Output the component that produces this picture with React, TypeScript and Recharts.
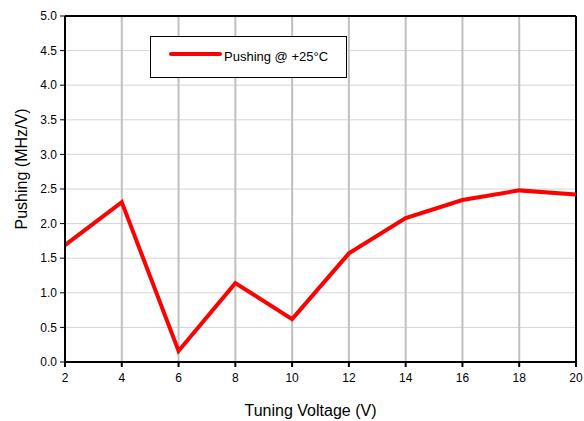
import React from 'react';
import { LineChart, Line, XAxis, YAxis, CartesianGrid, ReferenceLine, Legend, Label } from 'recharts';

const voltages = [2, 4, 6, 8, 10, 12, 14, 16, 18, 20];
const pushing = [1.69, 2.31, 0.16, 1.14, 0.62, 1.57, 2.08, 2.34, 2.48, 2.42];
const xTicks = [2, 4, 6, 8, 10, 12, 14, 16, 18, 20];
const yTicks = [0, 0.5, 1, 1.5, 2, 2.5, 3, 3.5, 4, 4.5, 5];
const seriesName = 'Pushing @ +25°C';

const data = voltages.map((v, i) => ({ v, p: pushing[i] }));

const FONT = '"Liberation Sans", Arial, Helvetica, sans-serif';

const LegendBox = () => (
  <div
    style={{
      width: 197,
      height: 42,
      boxSizing: 'border-box',
      border: '1px solid #000',
      background: '#fff',
      position: 'relative',
      fontFamily: FONT,
      fontSize: 13,
      color: '#000',
    }}
  >
    <div style={{ position: 'absolute', left: 18, top: 15, width: 53, height: 4, background: '#ff0000', borderRadius: 2 }} />
    <div style={{ position: 'absolute', left: 73, top: 12, lineHeight: '16px', whiteSpace: 'nowrap' }}>{seriesName}</div>
  </div>
);

export default function App() {
  return (
    <div style={{ position: 'absolute', left: 0, top: 0, width: 584, height: 421, background: '#fff' }}>
      <LineChart width={584} height={421} data={data} margin={{ top: 16, right: 8, left: 0, bottom: 0 }}>
        <CartesianGrid horizontal={true} vertical={false} stroke="#d4d4d4" strokeWidth={1} />
        <CartesianGrid horizontal={false} vertical={true} stroke="#c0c0c0" strokeWidth={2} />
        <XAxis
          dataKey="v"
          type="number"
          domain={[2, 20]}
          ticks={xTicks}
          height={59}
          axisLine={{ stroke: '#000', strokeWidth: 2 }}
          tickLine={{ stroke: '#000', strokeWidth: 2 }}
          tickSize={5}
          tickMargin={6}
          tick={{ fill: '#000', fontSize: 12, fontFamily: FONT }}
        >
          <Label value="Tuning Voltage (V)" position="insideBottom" offset={5} dx={-10} fill="#000" fontSize={16} fontFamily={FONT} />
        </XAxis>
        <YAxis
          type="number"
          domain={[0, 5]}
          ticks={yTicks}
          width={65}
          tickFormatter={(t: number) => t.toFixed(1)}
          axisLine={{ stroke: '#000', strokeWidth: 2 }}
          tickLine={{ stroke: '#000', strokeWidth: 1 }}
          tickSize={5}
          tickMargin={3}
          tick={{ fill: '#000', fontSize: 12, fontFamily: FONT }}
        >
          <Label
            content={(props: any) => {
              const vb = props.viewBox || { y: 16, height: 346 };
              const cx = 21;
              const cy = vb.y + vb.height / 2 - 20;
              return (
                <text
                  x={cx}
                  y={cy}
                  transform={`rotate(-90, ${cx}, ${cy})`}
                  textAnchor="middle"
                  dominantBaseline="central"
                  fill="#000"
                  fontSize={16}
                  fontFamily={FONT}
                >
                  Pushing (MHz/V)
                </text>
              );
            }}
          />
        </YAxis>
        <ReferenceLine y={5} stroke="#000" strokeWidth={2} />
        <ReferenceLine x={20} stroke="#000" strokeWidth={2} />
        <Legend
          layout="horizontal"
          verticalAlign="middle"
          align="center"
          content={() => <LegendBox />}
          wrapperStyle={{ position: 'absolute', left: 150, top: 36, width: 197, height: 42 }}
        />
        <Line
          type="linear"
          dataKey="p"
          name={seriesName}
          stroke="#ff0000"
          strokeWidth={4}
          dot={false}
          activeDot={false}
          isAnimationActive={false}
        />
      </LineChart>
    </div>
  );
}
